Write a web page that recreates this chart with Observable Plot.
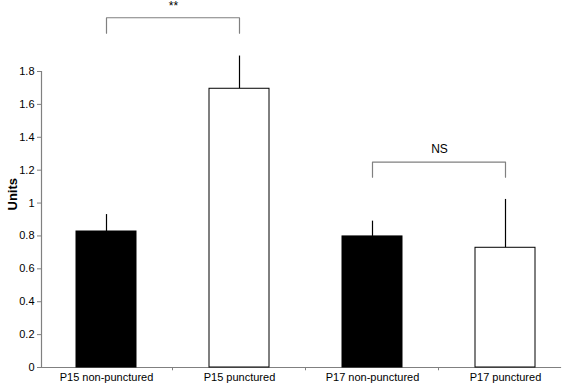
<!DOCTYPE html>
<html>
<head>
<meta charset="utf-8">
<script src="https://cdn.jsdelivr.net/npm/d3@7"></script>
<script src="https://cdn.jsdelivr.net/npm/@observablehq/plot@0.6"></script>
<style>
  html, body { margin: 0; padding: 0; background: #fff; }
  #chart svg { font-family: "Liberation Sans", Arial, sans-serif; }
</style>
</head>
<body>
<div id="chart"></div>
<script>
const categories = ["P15 non-punctured", "P15 punctured", "P17 non-punctured", "P17 punctured"];
const means = [0.827, 1.695, 0.797, 0.728];
const errors = [0.103, 0.199, 0.093, 0.294];
const fills = ["black", "white", "black", "white"];
const yTicks = [0, 0.2, 0.4, 0.6, 0.8, 1, 1.2, 1.4, 1.6, 1.8];
const yLabel = "Units";

const bracketPairs = [["P15 non-punctured", "P15 punctured"], ["P17 non-punctured", "P17 punctured"]];
const bracketTop = [2.127, 1.249];
const bracketBottom = [2.033, 1.157];
const bracketLabels = ["**", "NS"];
const bracketLabelY = [2.2, 1.325];

const bars = categories.map((c, i) => ({cat: c, mean: means[i], hi: means[i] + errors[i], fill: fills[i]}));
const bracketPts = bracketPairs.flatMap(([a, b], i) => [
  {g: i, x: a, y: bracketBottom[i]},
  {g: i, x: a, y: bracketTop[i]},
  {g: i, x: b, y: bracketTop[i]},
  {g: i, x: b, y: bracketBottom[i]}
]);
const bracketText = bracketPairs.map(([a], i) => ({x: a, y: bracketLabelY[i], t: bracketLabels[i]}));

const chart = Plot.plot({
  width: 569,
  height: 388,
  marginLeft: 41,
  marginRight: 9,
  marginTop: 71,
  marginBottom: 21,
  style: {fontFamily: "Liberation Sans, Arial, sans-serif", fontSize: "11px", background: "white"},
  x: {domain: categories, range: [74, 536], paddingInner: 0.552, paddingOuter: 0},
  y: {domain: [0, 1.8]},
  marks: [
    Plot.frame({anchor: "left", stroke: "#808080", strokeWidth: 1.2}),
    Plot.frame({anchor: "bottom", stroke: "#808080", strokeWidth: 1.2}),
    Plot.ruleX(categories.slice(1), {x: d => d, dx: -67, y1: 0, y2: -0.02, stroke: "#808080"}),
    Plot.axisY({ticks: yTicks, tickSize: 4, tickPadding: 3, stroke: "#808080", fill: "black",
      tickFormat: d => String(+d.toFixed(1)), label: null}),
    Plot.text([yLabel], {frameAnchor: "left", text: d => d, rotate: -90, dx: -29, dy: -9,
      fontSize: 13, fontWeight: "bold", fill: "black"}),
    Plot.axisX({tickSize: 0, tickPadding: 6, fill: "black", label: null}),
    Plot.ruleX(bars, {x: "cat", y1: "mean", y2: "hi", stroke: "black", strokeWidth: 1.2}),
    Plot.barY(bars, {x: "cat", y: "mean", fill: "fill", stroke: "black", strokeWidth: 1}),
    Plot.line(bracketPts, {x: "x", y: "y", z: "g", stroke: "#808080", strokeWidth: 1.2, curve: "linear"}),
    Plot.text(bracketText, {x: "x", y: "y", text: "t", dx: 67, fontSize: 12, fill: "black"})
  ]
});
document.getElementById("chart").appendChild(chart);
</script>
</body>
</html>
